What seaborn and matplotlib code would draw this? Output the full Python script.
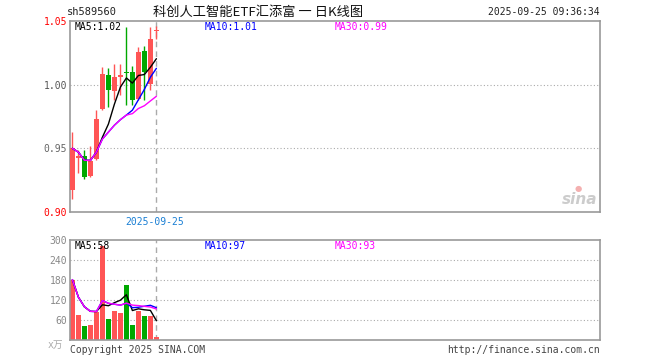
import numpy as np
import pandas as pd
import matplotlib
matplotlib.use("Agg")
import matplotlib.pyplot as plt
import seaborn as sns

# daily K data (15 trading days)
days = list(range(15))
opens = [0.9169, 0.9427, 0.9440, 0.9284, 0.9416, 0.9807, 1.0073, 0.9948, 1.0057, 1.0099,
         1.0100, 0.9890, 1.0268, 1.0008, 1.0420]
closes = [0.9500, 0.9440, 0.9278, 0.9403, 0.9730, 1.0086, 0.9955, 1.0060, 1.0073, 1.0089,
          0.9883, 1.0255, 1.0099, 1.0359, 1.0424]
highs = [0.9630, 0.9487, 0.9487, 0.9520, 0.9800, 1.0140, 1.0133, 1.0164, 1.0164, 1.0456,
         1.0143, 1.0294, 1.0307, 1.0456, 1.0464]
lows = [0.9102, 0.9305, 0.9260, 0.9275, 0.9410, 0.9800, 0.9825, 0.9878, 0.9917, 0.9839,
        0.9839, 0.9878, 0.9878, 0.9956, 1.0360]
volumes = [181, 76, 42, 45, 83, 282, 62, 88, 82, 165, 45, 88, 73, 73, 10]  # x万

price_ticks = [0.90, 0.95, 1.00, 1.05]
price_tick_colors = ["red", "#666666", "#555555", "red"]
vol_ticks = [0, 60, 120, 180, 240, 300]
vol_tick_labels = ["", "60", "120", "180", "240", "300"]

RED = "#ff5555"
GREEN = "#00a800"

df = pd.DataFrame({"day": days, "open": opens, "close": closes,
                   "high": highs, "low": lows, "vol": volumes})
for n in (5, 10, 30):
    df[f"ma{n}"] = df["close"].rolling(n, min_periods=1).mean()
    df[f"vma{n}"] = df["vol"].rolling(n, min_periods=1).mean()
df["color"] = np.where(df["close"] >= df["open"], RED, GREEN)

sns.set_style("white")
plt.rcParams["font.family"] = ["DejaVu Sans Mono", "Noto Sans CJK SC"]

W, H = 660, 360
fig = plt.figure(figsize=(6.6, 3.6), dpi=100)

def px_axes(x0, y0, x1, y1):
    return fig.add_axes([x0 / W, 1 - y1 / H, (x1 - x0) / W, (y1 - y0) / H])

ax = px_axes(70, 21, 600, 212)
axv = px_axes(70, 240, 600, 340)

xlim = (-0.4, -0.4 + 530 / 6)

# --- price panel ---
body = (df["close"] - df["open"]).abs().clip(lower=0.0007)
bottom = df[["open", "close"]].min(axis=1)
ax.vlines(df["day"], df["low"], df["high"], colors=df["color"], lw=1, zorder=2)
ax.bar(df["day"], body, bottom=bottom, width=0.82, color=df["color"], lw=0, zorder=3)
sns.lineplot(data=df, x="day", y="ma5", color="black", lw=1, ax=ax, zorder=4)
sns.lineplot(data=df, x="day", y="ma10", color="blue", lw=1, ax=ax, zorder=4)
sns.lineplot(data=df, x="day", y="ma30", color="magenta", lw=1, ax=ax, zorder=4)
ax.set_xlim(*xlim)
ax.set_ylim(0.90, 1.05)
ax.set_yticks(price_ticks)
ax.set_yticklabels([f"{t:.2f}" for t in price_ticks], fontsize=7)
for lab, c in zip(ax.get_yticklabels(), price_tick_colors):
    lab.set_color(c)
for y in (0.95, 1.00):
    ax.axhline(y, color="#aaaaaa", lw=0.8, ls=(0, (1, 2)), zorder=1)
ax.axvline(14, color="#aaaaaa", lw=1, ls=(0, (4, 3)), zorder=1)
ax.set_xticks([])
ax.set_xlabel("")
ax.set_ylabel("")

# --- volume panel ---
axv.bar(df["day"], df["vol"], width=0.82, color=df["color"], lw=0, zorder=2)
sns.lineplot(data=df, x="day", y="vma5", color="black", lw=1, ax=axv, zorder=4)
sns.lineplot(data=df, x="day", y="vma10", color="blue", lw=1, ax=axv, zorder=4)
sns.lineplot(data=df, x="day", y="vma30", color="magenta", lw=1, ax=axv, zorder=4)
axv.set_xlim(*xlim)
axv.set_ylim(0, 300)
axv.set_yticks(vol_ticks)
axv.set_yticklabels(vol_tick_labels, fontsize=7, color="#888888")
for y in (60, 120, 180, 240):
    axv.axhline(y, color="#aaaaaa", lw=0.8, ls=(0, (1, 2)), zorder=1)
axv.axvline(14, color="#aaaaaa", lw=1, ls=(0, (4, 3)), zorder=1)
axv.set_xticks([])
axv.set_xlabel("")
axv.set_ylabel("")

for a in (ax, axv):
    a.tick_params(axis="y", length=0, pad=2)
    for s in a.spines.values():
        s.set_visible(True)
        s.set_color("#999999")
        s.set_linewidth(1.2)

# --- texts ---
def ftext(x, y, s, **kw):
    fig.text(x / W, 1 - y / H, s, va="center", **kw)

ftext(67, 12, "sh589560", fontsize=7.5, color="#222222")
ftext(258, 12, "科创人工智能ETF汇添富 一 日K线图", fontsize=9.5, ha="center",
      color="#111111", family=["Noto Sans CJK SC", "DejaVu Sans"])
ftext(600, 12, "2025-09-25 09:36:34", fontsize=7, ha="right", color="#222222")

ftext(75, 27, f"MA5:{df['ma5'].iloc[-1]:.2f}", fontsize=7, color="black")
ftext(205, 27, f"MA10:{df['ma10'].iloc[-1]:.2f}", fontsize=7, color="blue")
ftext(335, 27, f"MA30:{df['ma30'].iloc[-1]:.2f}", fontsize=7, color="magenta")

ftext(75, 246, f"MA5:{df['vma5'].iloc[-1]:.0f}", fontsize=7, color="black")
ftext(205, 246, f"MA10:{df['vma10'].iloc[-1]:.0f}", fontsize=7, color="blue")
ftext(335, 246, f"MA30:{df['vma30'].iloc[-1]:.0f}", fontsize=7, color="magenta")

ftext(155, 222, "2025-09-25", fontsize=7, ha="center", color="#1a7fd4")
ftext(63, 345, "x万", fontsize=7, ha="right", color="#aaaaaa",
      family=["DejaVu Sans Mono", "Noto Sans CJK SC"])
ftext(70, 350, "Copyright 2025 SINA.COM", fontsize=7, color="#444444")
ftext(600, 350, "http://finance.sina.com.cn", fontsize=7, ha="right", color="#444444")

# sina watermark
ftext(597, 200, "sina", fontsize=11, ha="right", color="#cccccc",
      style="italic", weight="bold", family="DejaVu Sans")
ftext(578, 189, "●", fontsize=6, ha="center", color="#f4b0b0", family="DejaVu Sans")

fig.savefig("out.png", dpi=100)
